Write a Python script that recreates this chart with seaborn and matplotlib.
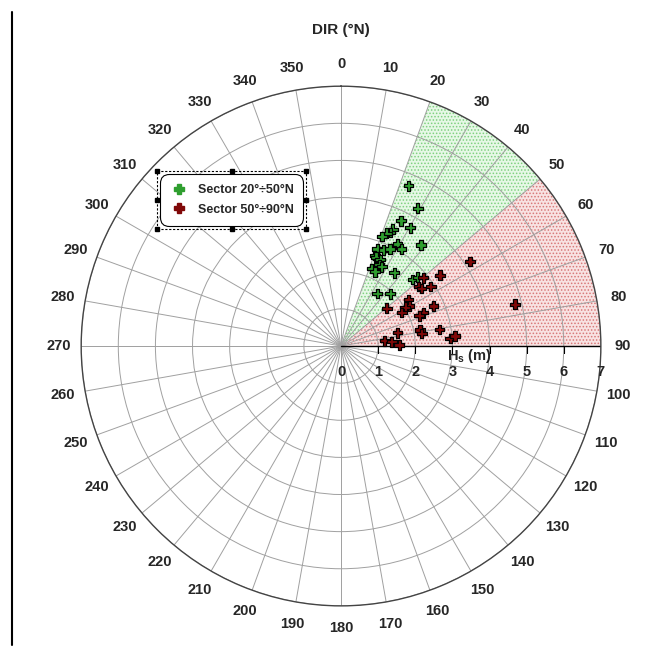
import numpy as np
import pandas as pd
import matplotlib
matplotlib.use("Agg")
import matplotlib.pyplot as plt
import matplotlib.transforms as mtransforms
from matplotlib.lines import Line2D
from matplotlib.patches import Rectangle
import seaborn as sns

# wave direction (deg from N) and significant wave height Hs (m)
dir_a = [22.8, 29.1, 25.6, 30.3, 23.9, 23.4, 22.1, 20.5, 38.4, 28.9, 32.0,
         20.5, 23.8, 26.8, 20.5, 21.5, 24.4, 25.1, 27.2, 21.6, 24.6, 36.0,
         47.1, 48.0, 34.6, 43.3]
hs_a = [4.68, 4.25, 3.74, 3.69, 3.44, 3.33, 3.28, 3.15, 3.47, 3.14, 3.08,
        2.79, 2.83, 2.93, 2.60, 2.57, 2.55, 2.43, 2.40, 2.25, 2.20, 2.44,
        2.64, 2.77, 1.72, 1.93]
dir_b = [56.8, 54.4, 50.3, 52.5, 54.4, 56.5, 55.6, 59.6, 58.8, 61.2, 50.5,
         66.6, 76.5, 68.0, 68.8, 76.7, 78.5, 81.1, 80.4, 83.1, 85.2, 89.0,
         86.0, 85.0]
hs_b = [4.15, 3.28, 2.88, 2.63, 2.67, 2.90, 2.20, 2.13, 2.02, 1.87, 1.60,
        2.71, 4.82, 2.39, 2.26, 1.56, 2.17, 2.20, 2.69, 1.19, 1.37, 1.57,
        2.95, 3.08]

sector_names = ["Sector 20°÷50°N", "Sector 50°÷90°N"]
sector_limits = [(20, 50), (50, 90)]
sector_fill = ["#e6f8e6", "#f8e2e2"]
sector_hatch = ["#7fd07f", "#d87878"]
marker_colors = ["#2e9e2e", "#800808"]

r_max = 7
r_ticks = [1, 2, 3, 4, 5, 6, 7]
dir_ticks = list(range(0, 360, 10))

df = pd.DataFrame({
    "theta": np.radians(dir_a + dir_b),
    "hs": hs_a + hs_b,
    "sector": [sector_names[0]] * len(dir_a) + [sector_names[1]] * len(dir_b),
})

sns.set_style("white")
plt.rcParams["font.family"] = ["Liberation Sans", "DejaVu Sans"]
plt.rcParams["hatch.linewidth"] = 0.7

fig = plt.figure(figsize=(6.46, 6.48), dpi=100)
ax = fig.add_axes([0.1254, 0.065, 0.805, 0.802], projection="polar")
ax.set_theta_zero_location("N")
ax.set_theta_direction(-1)
ax.set_ylim(0, r_max)

# shaded sectors
for (lo, hi), fc, hc in zip(sector_limits, sector_fill, sector_hatch):
    ax.bar(np.radians((lo + hi) / 2), r_max, width=np.radians(hi - lo),
           bottom=0, facecolor=fc, edgecolor=hc, hatch=".....", linewidth=0,
           zorder=0.5)

# grid
ax.set_thetagrids(dir_ticks, [str(d) for d in dir_ticks],
                  fontsize=10.5, fontweight="bold")
ax.set_xticks(np.radians(np.arange(5, 360, 10)), minor=True)
ax.tick_params(axis="x", which="major", pad=9, length=0)
ax.tick_params(axis="x", which="minor", direction="in", length=5,
               width=0.8, color="#333333")
ax.set_yticks(r_ticks)
ax.set_yticklabels([])
ax.grid(True, color="#a0a0a0", linewidth=0.7)
ax.spines["polar"].set_color("#444444")
ax.spines["polar"].set_linewidth(1.0)

# radial axis along 90 deg
ax.plot([np.radians(90)] * 2, [0, r_max], color="black", lw=1.0, zorder=2)
ax.plot([np.radians(90)] * len(r_ticks), r_ticks, ls="", marker=3,
        markersize=5, color="black", mew=0.8, zorder=2)
below = mtransforms.offset_copy(ax.transData, fig=fig, x=0, y=-26, units="dots")
for r in [0] + r_ticks:
    ax.text(np.radians(90), r, str(r), transform=below, ha="center",
            va="center", fontsize=10.5, fontweight="bold")
lab = mtransforms.offset_copy(ax.transData, fig=fig, x=0, y=-10, units="dots")
ax.text(np.radians(90), 3.45, "H$_\\mathregular{s}$ (m)", transform=lab,
        ha="center", va="center", fontsize=10.5, fontweight="bold")

sns.scatterplot(data=df, x="theta", y="hs", hue="sector",
                palette=marker_colors, marker="P", s=48, edgecolor="black",
                linewidth=0.9, ax=ax, zorder=3, legend=False)
ax.set_xlabel("")
ax.set_ylabel("")

handles = [Line2D([], [], ls="", marker="P", markersize=7, color=c,
                  markeredgecolor=c) for c in marker_colors]
leg = ax.legend(handles, sector_names, loc="upper left",
                bbox_to_anchor=(160 / 646, 1 - 174 / 648),
                bbox_transform=fig.transFigure, borderaxespad=0,
                frameon=True, fancybox=True, prop={"weight": "bold", "size": 9},
                handlelength=1.4, handletextpad=0.8, borderpad=0.8,
                labelspacing=0.6)
frame = leg.get_frame()
frame.set_edgecolor("black")
frame.set_linewidth(0.8)
frame.set_alpha(1)
frame.set_boxstyle("round", pad=0, rounding_size=0.7)

# dashed selection box with handles around the legend
fig.canvas.draw()
bb = frame.get_window_extent()
W, H = fig.bbox.width, fig.bbox.height
x0, x1 = (bb.x0 - 3) / W, (bb.x1 + 3) / W
y0, y1 = (bb.y0 - 3) / H, (bb.y1 + 3) / H
fig.add_artist(Rectangle((x0, y0), x1 - x0, y1 - y0, fill=False,
                         ls=(0, (2, 1.5)), lw=0.8, ec="black",
                         transform=fig.transFigure))
xm, ym = (x0 + x1) / 2, (y0 + y1) / 2
fig.add_artist(Line2D([x0, xm, x1, x1, x1, xm, x0, x0],
                      [y1, y1, y1, ym, y0, y0, y0, ym], ls="", marker="s",
                      markersize=3.5, color="black",
                      transform=fig.transFigure))

fig.text(341 / 646, 1 - 30 / 648, "DIR (°N)", ha="center", va="center",
         fontsize=11, fontweight="bold")
fig.add_artist(Line2D([12 / 646, 12 / 646], [1 - 12 / 648, 1 - 645 / 648],
                      color="black", lw=1.5, transform=fig.transFigure))

fig.savefig("out.png", dpi=100)
